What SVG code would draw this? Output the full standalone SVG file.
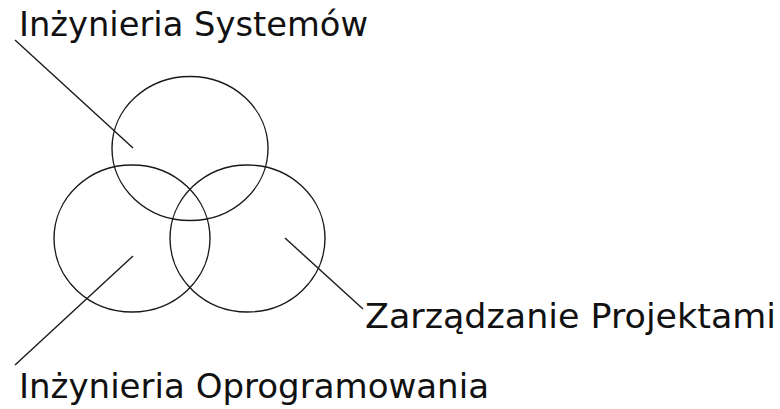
<svg xmlns="http://www.w3.org/2000/svg" width="780" height="409" viewBox="0 0 780 409">
<style>
.c{fill:none;stroke:#1a1a1a;stroke-width:1.4}
.l{stroke:#1a1a1a;stroke-width:1.4;fill:none}
.t{font-family:"DejaVu Sans","Liberation Sans",sans-serif;font-size:33px;fill:#111}
</style>
<rect width="780" height="409" fill="#fff"/>
<g id="systemow">
<ellipse class="c" cx="190" cy="148.5" rx="78" ry="72"/>
<text class="t" x="19" y="36" textLength="349" lengthAdjust="spacingAndGlyphs">Inżynieria Systemów</text>
</g>
<g id="oprogramowania">
<ellipse class="c" cx="132" cy="238.5" rx="78" ry="73.5"/>
<text class="t" x="19" y="398" textLength="470" lengthAdjust="spacingAndGlyphs">Inżynieria Oprogramowania</text>
</g>
<g id="projektami">
<ellipse class="c" cx="247.5" cy="238.5" rx="77.5" ry="73.5"/>
<text class="t" x="365" y="328" textLength="411" lengthAdjust="spacingAndGlyphs">Zarządzanie Projektami</text>
</g>
<g id="connectors">
<line class="l" x1="15" y1="40" x2="133" y2="148"/>
<line class="l" x1="133" y1="256" x2="15" y2="365"/>
<line class="l" x1="285" y1="238" x2="363" y2="309"/>
</g>
</svg>
